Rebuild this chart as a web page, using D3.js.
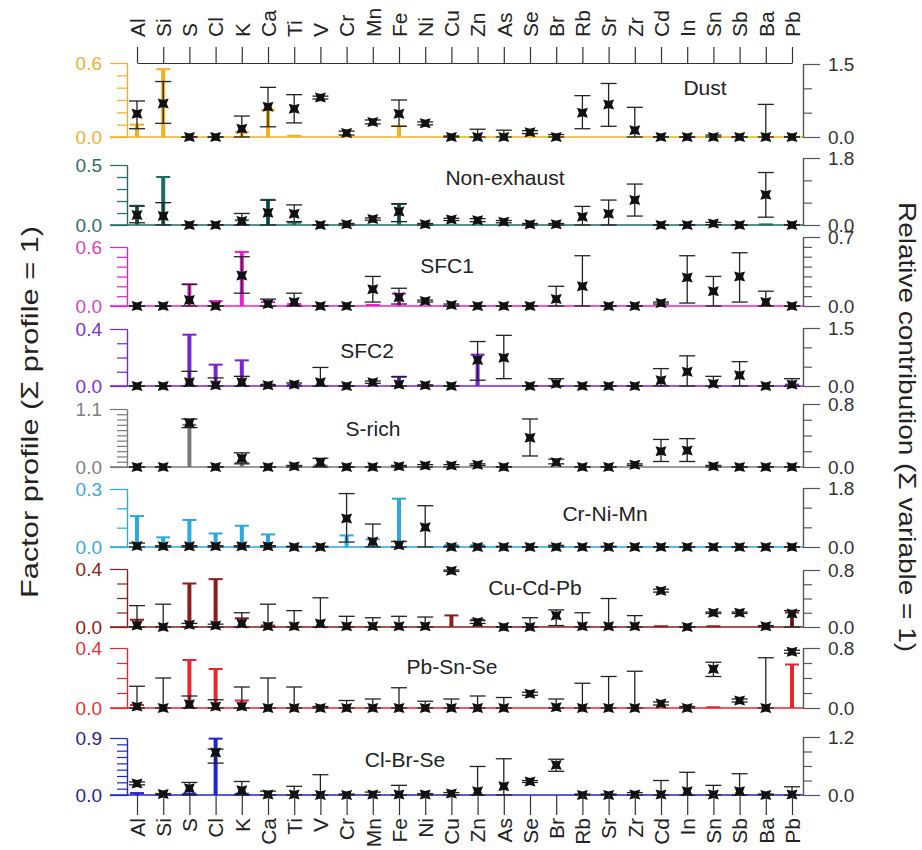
<!DOCTYPE html>
<html>
<head>
<meta charset="utf-8">
<script src="https://cdn.jsdelivr.net/npm/d3@7"></script>
<style>
  body { margin: 0; background: #fff; }
  svg text { font-family: "Liberation Sans", Arial, sans-serif; }
</style>
</head>
<body>
<svg id="chart" width="922" height="850"></svg>
<script>
// ---- data ----
const elements = ["Al","Si","S","Cl","K","Ca","Ti","V","Cr","Mn","Fe","Ni","Cu","Zn","As","Se","Br","Rb","Sr","Zr","Cd","In","Sn","Sb","Ba","Pb"];
const factors = ["Dust","Non-exhaust","SFC1","SFC2","S-rich","Cr-Ni-Mn","Cu-Cd-Pb","Pb-Sn-Se","Cl-Br-Se"];

// axis maxima (left = factor profile, right = relative contribution)
const leftMax  = [0.6, 0.5, 0.6, 0.4, 1.1, 0.3, 0.4, 0.4, 0.9];
const rightMax = [1.5, 1.8, 0.7, 1.5, 0.8, 1.8, 0.8, 0.8, 1.2];
const rightMinorStep = [0.5, 0.6, 0.1, 0.5, 0.2, 0.6, 0.2, 0.2, 0.3];

// factor profile (coloured bars), one row per factor
const profile = [
  [0.10,0.55,0,0,0.04,0.22,0.01,0,0,0,0.09,0,0,0,0,0,0,0,0,0,0,0,0,0,0,0],
  [0.16,0.40,0,0,0.04,0.21,0.02,0,0,0,0.175,0,0,0,0,0,0,0,0,0,0,0,0,0,0.005,0],
  [0,0,0.22,0.05,0.55,0.04,0.02,0,0,0.01,0.125,0,0,0,0,0,0,0,0,0,0,0,0,0,0,0],
  [0,0,0.36,0.15,0.18,0.01,0.01,0,0,0,0.065,0,0,0.22,0,0,0,0,0,0,0,0,0,0,0,0.01],
  [0,0,0.80,0,0.08,0,0,0.03,0,0,0,0,0,0,0,0,0,0,0,0,0,0,0,0,0,0],
  [0.16,0.05,0.14,0.07,0.11,0.065,0,0,0.06,0.04,0.25,0,0.01,0.01,0,0,0,0,0,0,0,0,0,0,0,0],
  [0.05,0,0.30,0.33,0.06,0.01,0,0,0,0,0,0,0.08,0.05,0,0,0,0,0,0,0.005,0,0.005,0,0,0.10],
  [0.02,0,0.32,0.26,0.05,0,0,0,0,0,0,0,0,0,0,0,0,0,0,0,0,0,0.005,0,0,0.29],
  [0.03,0.01,0.02,0.89,0.02,0,0,0,0,0,0,0,0,0,0,0,0,0,0,0,0,0,0,0,0,0]
];

// relative contribution (black markers) with lower / upper bounds
const contrib = [
  [0.48,0.69,0,0,0.17,0.62,0.58,0.81,0.08,0.31,0.48,0.28,0,0,0,0.10,0,0.50,0.67,0.14,0,0,0,0,0,0],
  [0.27,0.24,0,0,0.11,0.33,0.30,0,0.02,0.16,0.36,0.02,0.15,0.13,0.09,0.02,0.02,0.22,0.30,0.67,0,0,0.04,0,0.81,0],
  [0,0,0.06,0,0.31,0.02,0.04,0,0,0.17,0.09,0.05,0.01,0,0,0,0.07,0.20,0,0,0.03,0.29,0.15,0.30,0.04,0],
  [0,0,0.10,0.02,0.10,0.02,0.04,0.10,0,0.10,0.04,0.02,0,0.67,0.73,0,0.06,0,0,0,0.15,0.37,0.06,0.28,0,0.04],
  [0,0,0.56,0,0.11,0,0.01,0.06,0,0,0.01,0.02,0.02,0.03,0,0.37,0.06,0,0,0.03,0.20,0.21,0.01,0,0,0],
  [0.03,0.02,0.02,0.02,0.02,0.02,0,0,0.87,0.17,0.05,0.60,0,0,0,0,0,0,0,0,0,0,0,0,0,0],
  [0.02,0,0.03,0.02,0.05,0.01,0.01,0.05,0.01,0.01,0.01,0.01,0.79,0.07,0,0,0.16,0.01,0.01,0.01,0.51,0,0.20,0.20,0.01,0.19],
  [0.02,0,0.05,0.02,0.02,0,0,0,0,0,0,0,0,0,0,0.19,0.01,0,0,0,0.06,0,0.52,0.10,0,0.75],
  [0.24,0.02,0.14,0.88,0.10,0.01,0.01,0,0,0.01,0.01,0.01,0.03,0.08,0.18,0.28,0.62,0,0,0.01,0.01,0.08,0.01,0.08,0,0.01]
];
const contribLo = [
  [0.17,0.28,0,0,0,0.21,0.29,0.78,0.04,0.27,0.22,0.25,0,0,0,0.07,0,0.17,0.22,0,0,0,0,0,0,0],
  [0.06,0,0,0,0,0,0.09,0,0,0.13,0.09,0,0.12,0.09,0.06,0,0,0,0,0.24,0,0,0.01,0,0.21,0],
  [0,0,0,0,0.13,0,0,0,0,0.04,0.02,0.04,0,0,0,0,0,0,0,0,0.02,0.03,0,0.04,0,0],
  [0,0,0,0,0,0,0,0,0,0.07,0,0,0,0.15,0.19,0,0,0,0,0,0,0,0,0,0,0],
  [0,0,0.50,0,0.04,0,0,0,0,0,0,0,0,0.02,0,0.14,0.04,0,0,0.02,0.07,0.07,0,0,0,0],
  [0,0,0,0,0,0,0,0,0.15,0,0,0,0,0,0,0,0,0,0,0,0,0,0,0,0,0],
  [0,0,0,0,0,0,0,0,0,0,0,0,0.78,0.05,0,0,0.02,0,0,0,0.49,0,0.19,0.19,0,0],
  [0,0,0,0,0,0,0,0,0,0,0,0,0,0,0,0.17,0,0,0,0,0.04,0,0.42,0.08,0,0.73],
  [0.21,0,0,0.66,0,0,0,0,0,0,0,0,0,0,0,0.26,0.49,0,0,0,0,0,0,0,0,0]
];
const contribHi = [
  [0.74,1.14,0,0,0.43,1.02,0.87,0.84,0.12,0.35,0.76,0.31,0.02,0.16,0.14,0.13,0.05,0.85,1.10,0.61,0,0,0.04,0,0.67,0],
  [0.51,0.60,0,0,0.31,0.67,0.54,0,0.04,0.19,0.57,0.04,0.18,0.17,0.12,0.04,0.04,0.50,0.67,1.10,0,0,0.07,0,1.41,0],
  [0,0,0.22,0,0.50,0.07,0.13,0,0,0.30,0.18,0.06,0.02,0,0,0,0.20,0.51,0,0,0.04,0.51,0.30,0.54,0.15,0],
  [0,0,0.38,0.21,0.25,0.03,0.08,0.48,0,0.13,0.24,0.03,0,1.15,1.31,0,0.19,0,0,0,0.45,0.78,0.25,0.63,0,0.19],
  [0,0,0.61,0,0.18,0,0.02,0.11,0,0,0.02,0.03,0.03,0.04,0,0.61,0.10,0,0,0.04,0.35,0.36,0.02,0,0,0],
  [0.12,0.04,0.04,0.04,0.04,0.04,0.02,0.02,1.63,0.70,0.17,1.26,0.02,0.02,0.02,0,0.05,0,0.02,0,0,0,0,0,0,0],
  [0.30,0.32,0.05,0.04,0.20,0.32,0.23,0.41,0.15,0.13,0.15,0.14,0.80,0.09,0,0.13,0.24,0.20,0.40,0.16,0.53,0,0.21,0.21,0.02,0.23],
  [0.29,0.40,0.16,0.11,0.28,0.40,0.28,0.02,0.10,0.12,0.27,0.09,0.12,0.16,0.14,0.21,0.12,0.33,0.42,0.49,0.08,0.02,0.61,0.12,0.67,0.77],
  [0.27,0.03,0.26,0.95,0.28,0.08,0.18,0.42,0.02,0.06,0.20,0.03,0.05,0.59,0.75,0.30,0.74,0.02,0.02,0.05,0.30,0.47,0.20,0.44,0.02,0.17]
];

// ---- styles / layout ----
const barColors   = ["#f2b01e","#1d6c66","#e81ecf","#7a22d6","#7a7a7a","#2aa8e2","#8e1c1c","#e8262b","#1f25cf"];
const labelColors = ["#f0ae35","#2e6e69","#d844c4","#7a2fd2","#808080","#3aa9dc","#8b2020","#e33236","#26268c"];
const baseY     = [137, 225, 306, 386, 467, 547, 627, 708, 795];
const leftTopY  = [63, 165, 247, 329, 409, 489, 569, 648, 738];
const rightTopY = [64, 158, 237, 328, 404, 488, 570, 648, 737];
const labelXY   = [[705,88],[505,178],[447,266],[367,351],[373,429],[605,514],[535,588],[452,667],[405,760]];

const axisL = 127, axisR = 803;
const svg = d3.select("#chart");

const x = d3.scalePoint().domain(elements).range([137, 792]);

// top element axis
const topAxis = svg.append("g")
  .attr("transform", "translate(0,63)")
  .call(d3.axisTop(x).tickSize(16).tickSizeOuter(0));
topAxis.selectAll("path, line").attr("stroke", "#333").attr("stroke-width", 1.2);
topAxis.selectAll("text")
  .attr("transform", "rotate(-90)")
  .attr("x", 26).attr("y", 0).attr("dy", "0.35em")
  .attr("text-anchor", "start")
  .attr("fill", "#222").style("font-size", "21px");

factors.forEach((name, i) => {
  const g = svg.append("g").attr("class", "panel");
  const yL = d3.scaleLinear().domain([0, leftMax[i]]).range([baseY[i], leftTopY[i]]);
  const yR = d3.scaleLinear().domain([0, rightMax[i]]).range([baseY[i], rightTopY[i]]);
  const col = barColors[i];

  // zero line
  g.append("line")
    .attr("x1", axisL - 17).attr("x2", axisR)
    .attr("y1", yL(0)).attr("y2", yL(0))
    .attr("stroke", col).attr("stroke-width", 1.4);

  // left minor + major ticks
  const nMinor = Math.round(leftMax[i] / 0.1);
  const minorL = d3.range(1, nMinor).map(k => k * 0.1);
  const lMin = g.append("g").attr("transform", `translate(${axisL},0)`)
    .call(d3.axisLeft(yL).tickValues(minorL).tickSize(10).tickSizeOuter(0).tickFormat(""));
  const lMaj = g.append("g").attr("transform", `translate(${axisL},0)`)
    .call(d3.axisLeft(yL).tickValues([0, leftMax[i]]).tickSize(17).tickSizeOuter(0)
      .tickPadding(8).tickFormat(d3.format(".1f")));
  [lMin, lMaj].forEach(a => a.selectAll("path, line").attr("stroke", col).attr("stroke-width", 1.2));
  lMaj.selectAll("text").attr("fill", labelColors[i]).style("font-size", "19px");

  // right axis
  const nR = Math.round(rightMax[i] / rightMinorStep[i]);
  const minorR = d3.range(1, nR).map(k => k * rightMinorStep[i]);
  const rMin = g.append("g").attr("transform", `translate(${axisR},0)`)
    .call(d3.axisRight(yR).tickValues(minorR).tickSize(9).tickSizeOuter(0).tickFormat(""));
  const rMaj = g.append("g").attr("transform", `translate(${axisR},0)`)
    .call(d3.axisRight(yR).tickValues([0, rightMax[i]]).tickSize(17).tickSizeOuter(0)
      .tickPadding(8).tickFormat(d3.format(".1f")));
  [rMin, rMaj].forEach(a => a.selectAll("path, line").attr("stroke", "#555").attr("stroke-width", 1.2));
  rMaj.selectAll("text").attr("fill", "#333").style("font-size", "19px");

  // coloured profile bars
  const bars = elements.map((e, j) => ({ e, v: profile[i][j] })).filter(d => d.v > 0);
  g.selectAll("line.pbar").data(bars).join("line")
    .attr("class", "pbar")
    .attr("x1", d => x(d.e)).attr("x2", d => x(d.e))
    .attr("y1", yL(0)).attr("y2", d => yL(d.v))
    .attr("stroke", col).attr("stroke-width", 4);
  g.selectAll("line.pcap").data(bars).join("line")
    .attr("class", "pcap")
    .attr("x1", d => x(d.e) - 7).attr("x2", d => x(d.e) + 7)
    .attr("y1", d => yL(d.v)).attr("y2", d => yL(d.v))
    .attr("stroke", col).attr("stroke-width", 2);

  // contribution error bars + markers
  const pts = elements.map((e, j) => ({ e, c: contrib[i][j], lo: contribLo[i][j], hi: contribHi[i][j] }));
  g.selectAll("line.err").data(pts).join("line")
    .attr("class", "err")
    .attr("x1", d => x(d.e)).attr("x2", d => x(d.e))
    .attr("y1", d => yR(d.lo)).attr("y2", d => yR(d.hi))
    .attr("stroke", "#222").attr("stroke-width", 1.3);
  ["lo", "hi"].forEach(k => {
    g.selectAll("line.cap" + k).data(pts).join("line")
      .attr("class", "cap" + k)
      .attr("x1", d => x(d.e) - 8).attr("x2", d => x(d.e) + 8)
      .attr("y1", d => yR(d[k])).attr("y2", d => yR(d[k]))
      .attr("stroke", "#222").attr("stroke-width", 1.3);
  });
  g.selectAll("path.mk").data(pts).join("path")
    .attr("class", "mk")
    .attr("transform", d => `translate(${x(d.e)},${yR(d.c)})`)
    .attr("d", "M-5.5,-5L0,-3.5L5.5,-5L3.5,0L5.5,5L0,3.5L-5.5,5L-3.5,0Z")
    .attr("fill", "#111");

  // factor name
  g.append("text")
    .attr("x", labelXY[i][0]).attr("y", labelXY[i][1])
    .attr("text-anchor", "middle").attr("dy", "0.35em")
    .attr("fill", "#222").style("font-size", "21px")
    .text(name);
});

// bottom element axis
const last = factors.length - 1;
const botAxis = svg.append("g")
  .attr("transform", `translate(0,${baseY[last]})`)
  .call(d3.axisBottom(x).tickSize(20).tickSizeOuter(0));
botAxis.select(".domain").remove();
botAxis.selectAll("line").attr("stroke", "#333").attr("stroke-width", 1.2);
botAxis.selectAll("text")
  .attr("transform", "rotate(-90)")
  .attr("x", -23).attr("y", 0).attr("dy", "0.35em")
  .attr("text-anchor", "end")
  .attr("fill", "#222").style("font-size", "21px");

// axis titles
svg.append("text")
  .attr("transform", "translate(30,412) rotate(-90)")
  .attr("text-anchor", "middle").attr("dy", "0.35em")
  .attr("textLength", 372).attr("lengthAdjust", "spacingAndGlyphs")
  .attr("fill", "#222").style("font-size", "24px")
  .text("Factor profile (\u03A3 profile = 1)");
svg.append("text")
  .attr("transform", "translate(907,427) rotate(90)")
  .attr("text-anchor", "middle").attr("dy", "0.35em")
  .attr("textLength", 450).attr("lengthAdjust", "spacingAndGlyphs")
  .attr("fill", "#222").style("font-size", "24px")
  .text("Relative contribution (\u03A3 variable = 1)");
</script>
</body>
</html>
